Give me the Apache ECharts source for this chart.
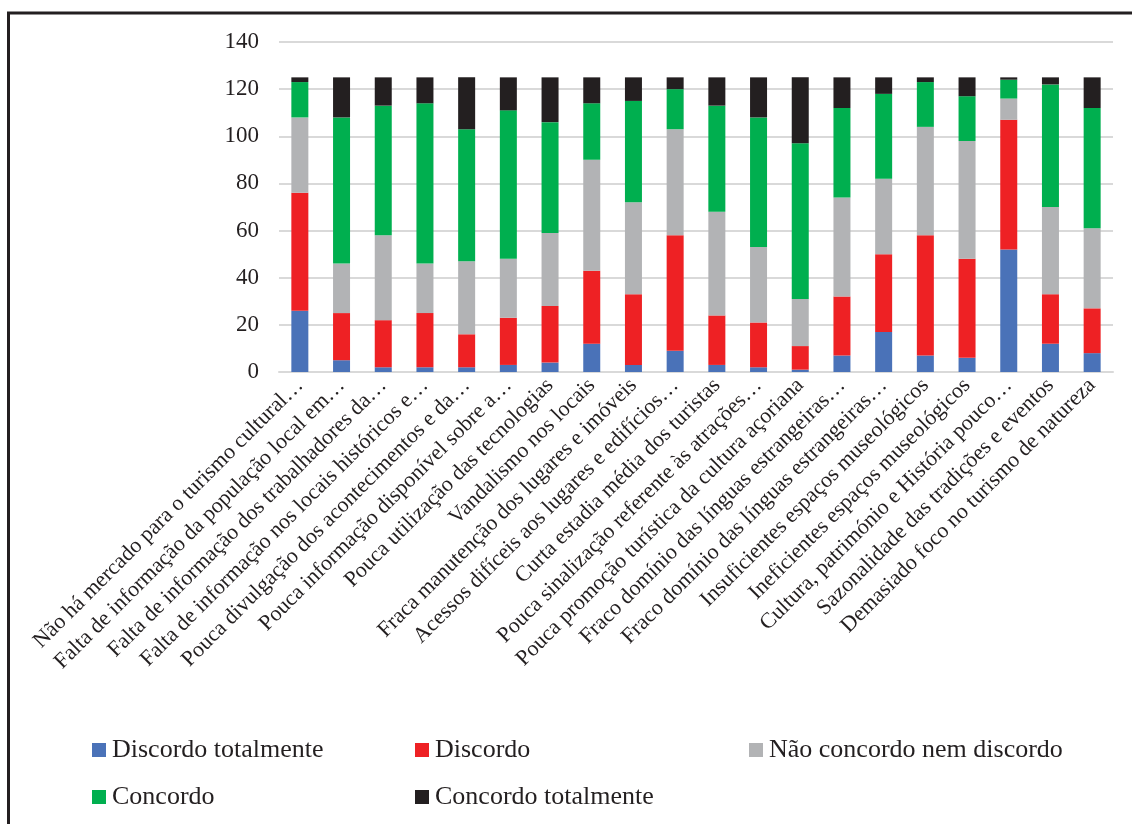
<!DOCTYPE html>
<html>
<head>
<meta charset="utf-8">
<title>Obstáculos ao turismo cultural</title>
<script src="https://cdn.jsdelivr.net/npm/echarts@6/dist/echarts.min.js"></script>
<style>
  html, body { margin: 0; padding: 0; background: #fff; }
  #chart { width: 1132px; height: 824px; }
</style>
</head>
<body>
<div id="chart"></div>
<script>
// categorias (texto truncado como no original)
const categories = [
  'Não há mercado para o turismo cultural…',
  'Falta de informação da população local em…',
  'Falta de informação dos trabalhadores da…',
  'Falta de informação nos locais históricos e…',
  'Pouca divulgação dos acontecimentos e da…',
  'Pouca informação disponível sobre a…',
  'Pouca utilização das tecnologias',
  'Vandalismo nos locais',
  'Fraca manutenção dos lugares e imóveis',
  'Acessos difíceis aos lugares e edifícios…',
  'Curta estadia média dos turistas',
  'Pouca sinalização referente às atrações…',
  'Pouca promoção turística da cultura açoriana',
  'Fraco domínio das línguas estrangeiras…',
  'Fraco domínio das línguas estrangeiras…',
  'Insuficientes espaços museológicos',
  'Ineficientes espaços museológicos',
  'Cultura, património e História pouco…',
  'Sazonalidade das tradições e eventos',
  'Demasiado foco no turismo de natureza'
]

const discordoTotalmente = [26, 5, 2, 2, 2, 3, 4, 12, 3, 9, 3, 2, 1, 7, 17, 7, 6, 52, 12, 8]
const discordo = [50, 20, 20, 23, 14, 20, 24, 31, 30, 49, 21, 19, 10, 25, 33, 51, 42, 55, 21, 19]
const neutro = [32, 21, 36, 21, 31, 25, 31, 47, 39, 45, 44, 32, 20, 42, 32, 46, 50, 9, 37, 34]
const concordo = [15, 62, 55, 68, 56, 63, 47, 24, 43, 17, 45, 55, 66, 38, 36, 19, 19, 8, 52, 51]
const concordoTotalmente = [2, 17, 12, 11, 22, 14, 19, 11, 10, 5, 12, 17, 28, 13, 7, 2, 8, 1, 3, 13]

const seriesNames = ['Discordo totalmente', 'Discordo', 'Não concordo nem discordo', 'Concordo', 'Concordo totalmente']
const colors = ['#4a72b8', '#ee2124', '#b2b3b5', '#00af4f', '#231f20']
const values = [discordoTotalmente, discordo, neutro, concordo, concordoTotalmente]

const font = "'Liberation Serif', 'Times New Roman', serif"
const textColor = '#231f20'

const chart = echarts.init(document.getElementById('chart'))

const series = values.map((data, index) => ({
  name: seriesNames[index],
  type: 'bar',
  stack: 'total',
  barWidth: 17,
  itemStyle: { color: colors[index] },
  data: data
}))

// posições da legenda (duas linhas, três colunas)
const legendPos = [
  { left: 92, top: 737 },
  { left: 415, top: 737 },
  { left: 749, top: 737 },
  { left: 92, top: 784 },
  { left: 415, top: 784 }
]
const legend = seriesNames.map((name, index) => ({
  data: [name],
  left: legendPos[index].left,
  top: legendPos[index].top,
  padding: 0,
  icon: 'rect',
  itemWidth: 14,
  itemHeight: 14,
  itemGap: 0,
  selectedMode: false,
  textStyle: { fontFamily: font, fontSize: 26, color: textColor, padding: [0, 0, 0, 1] }
}))

chart.setOption({
  animation: false,
  backgroundColor: '#fff',
  grid: {
    left: 279,
    right: 19,
    top: 42,
    bottom: 452,
    containLabel: false
  },
  legend: legend,
  xAxis: {
    type: 'category',
    data: categories,
    axisTick: { show: false },
    axisLine: { lineStyle: { color: '#d9d9d9', width: 2 } },
    axisLabel: {
      interval: 0,
      rotate: 45,
      margin: 10,
      fontFamily: font,
      fontSize: 22,
      color: textColor
    }
  },
  yAxis: {
    type: 'value',
    min: 0,
    max: 140,
    interval: 20,
    axisLine: { show: false },
    axisTick: { show: false },
    splitLine: { lineStyle: { color: '#d9d9d9', width: 2 } },
    axisLabel: {
      margin: 20,
      fontFamily: font,
      fontSize: 23,
      color: textColor
    }
  },
  graphic: [
    {
      type: 'rect',
      shape: { x: 8.5, y: 13, width: 1200, height: 900 },
      style: { fill: 'none', stroke: '#231f20', lineWidth: 3 },
      silent: true
    }
  ],
  series: series
})
</script>
</body>
</html>
